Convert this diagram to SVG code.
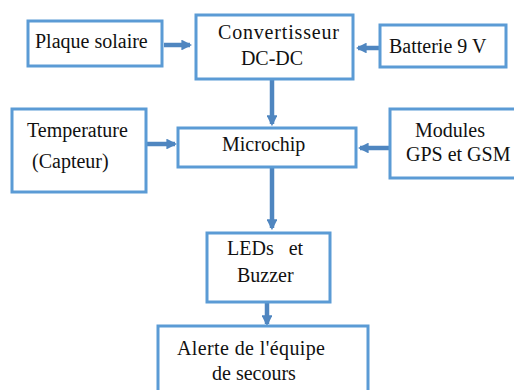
<svg xmlns="http://www.w3.org/2000/svg" width="514" height="390" viewBox="0 0 514 390">
<defs>
<style>
.box{fill:#fff;stroke:#5B9BD5;stroke-width:3}
.t{font-family:'Liberation Serif','DejaVu Serif',serif;font-size:20px;fill:#111}
.ar{stroke:#4F86C0;stroke-width:4.5;fill:none;marker-end:url(#ah)}
</style>
<marker id="ah" viewBox="0 0 10 10" refX="8" refY="5" markerWidth="2.4" markerHeight="2.4" orient="auto" markerUnits="strokeWidth">
<path d="M0,0 L10,5 L0,10 Z" fill="#4F86C0"/>
</marker>
</defs>
<rect width="514" height="390" fill="#fff"/>
<g id="connectors">
<line class="ar" x1="164" y1="45" x2="190" y2="45"/>
<line class="ar" x1="380" y1="48" x2="358" y2="48"/>
<line class="ar" x1="272" y1="80" x2="272" y2="124"/>
<line class="ar" x1="147" y1="144" x2="175" y2="144"/>
<line class="ar" x1="390" y1="148" x2="360" y2="148"/>
<line class="ar" x1="272" y1="168" x2="272" y2="228"/>
<line class="ar" x1="267" y1="303" x2="267" y2="324"/>
</g>
<g id="plaque"><rect class="box" x="28" y="21" width="134" height="45"/><text class="t" x="35" y="48">Plaque solaire</text></g>
<g id="convertisseur"><rect class="box" x="196" y="15" width="157" height="64"/><text class="t" x="218" y="39" textLength="121">Convertisseur</text><text class="t" x="272" y="65" text-anchor="middle">DC-DC</text></g>
<g id="batterie"><rect class="box" x="380" y="25" width="126" height="42"/><text class="t" x="389" y="53">Batterie 9 V</text></g>
<g id="temperature"><rect class="box" x="12" y="109" width="134" height="83"/><text class="t" x="27" y="137">Temperature</text><text class="t" x="32" y="168">(Capteur)</text></g>
<g id="microchip"><rect class="box" x="178" y="128" width="178" height="39"/><text class="t" x="222" y="151">Microchip</text></g>
<g id="modules"><rect class="box" x="390" y="109" width="128" height="69"/><text class="t" x="415" y="137">Modules</text><text class="t" x="406" y="161">GPS et GSM</text></g>
<g id="leds"><rect class="box" x="207" y="233" width="123" height="69"/><text class="t" x="227" y="255" xml:space="preserve">LEDs   et</text><text class="t" x="237" y="282">Buzzer</text></g>
<g id="alerte"><rect class="box" x="158" y="326" width="210" height="70"/><text class="t" x="177" y="355" textLength="148">Alerte de l'équipe</text><text class="t" x="212" y="380">de secours</text></g>
</svg>
